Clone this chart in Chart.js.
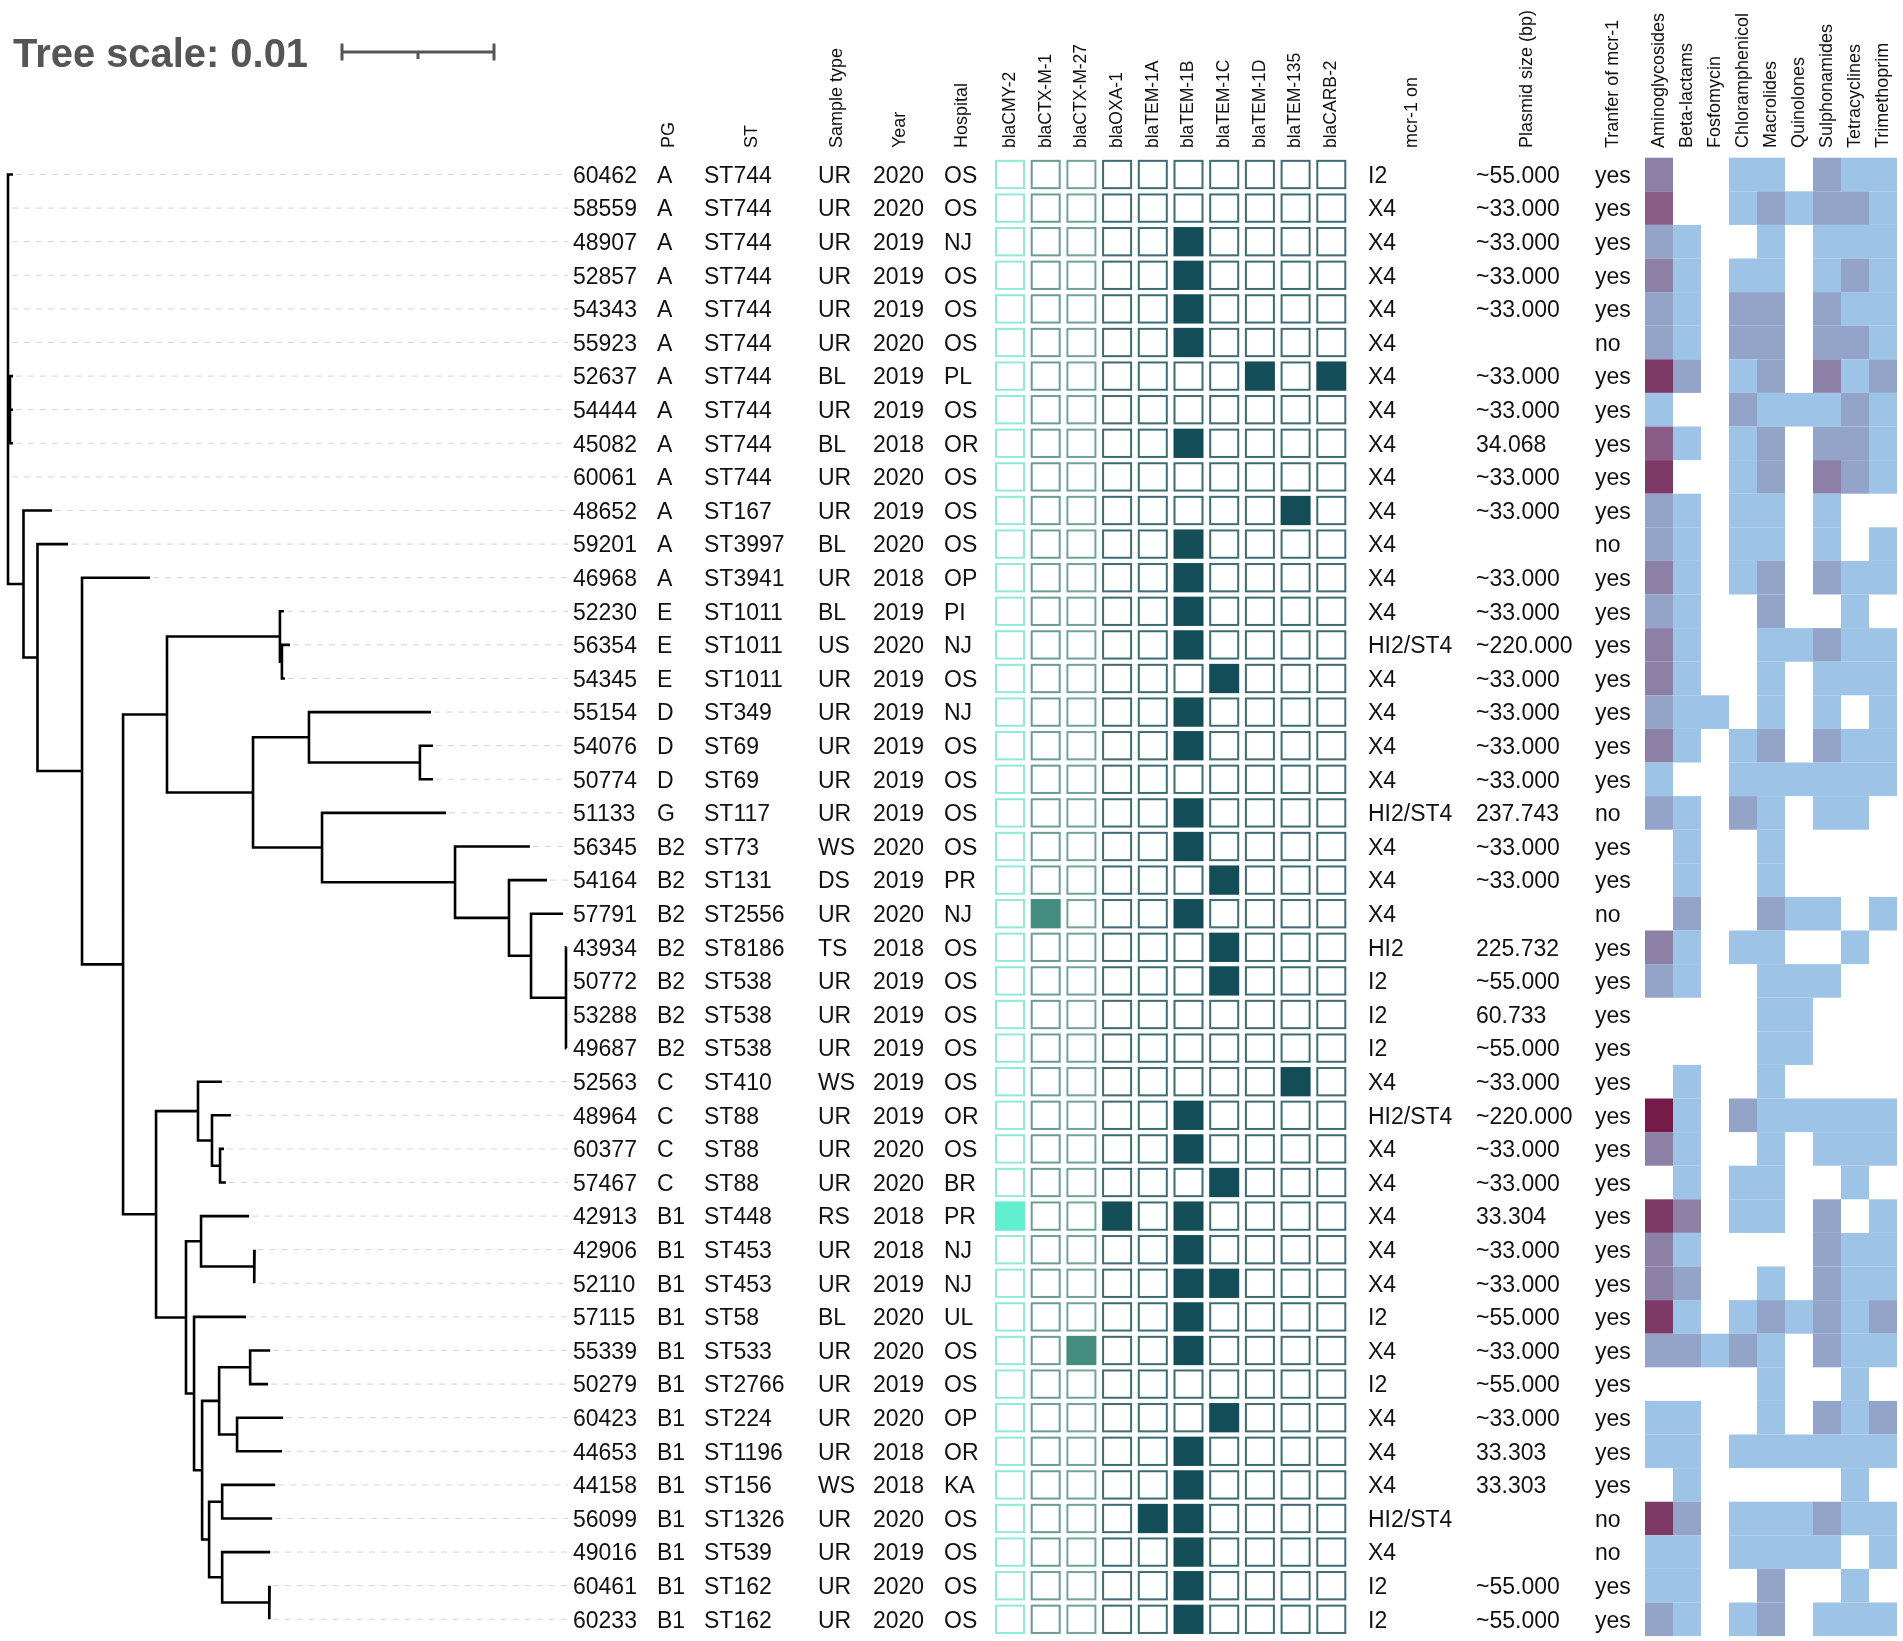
<!DOCTYPE html>
<html>
<head>
<meta charset="utf-8">
<title>mcr-1 isolates tree</title>
<script src="https://cdn.jsdelivr.net/npm/chart.js@4.4.1/dist/chart.umd.min.js"></script>
<style>
  html, body { margin: 0; padding: 0; background: #fff; }
  #wrap { width: 1903px; height: 1641px; position: relative; }
</style>
</head>
<body>
<div id="wrap"><canvas id="tree"></canvas></div>
<script>
// ---- data ----
const treeNewick =
  '(60462:0.00033,58559:0.00007,48907:0.00007,52857:0.00007,54343:0.00007,55923:0.00007,' +
  '(52637:0.0002,54444:0.0002,45082:0.0002):0.00013,60061:0.00007,' +
  '(48652:0.00188,(59201:0.00201,(46968:0.00447,(' +
    '((52230:0.00026,(56354:0.00053,54345:0.0002):0.00013):0.00743,' +
    '((55154:0.00803,(54076:0.00086,50774:0.00086):0.0073):0.00368,' +
    '(51133:0.00816,(56345:0.00493,(54164:0.0025,(57791:0.00211,' +
    '(43934:0.00003,50772:0.00003,53288:0.00003,49687:0.00003):0.0023):0.00145):0.00355):0.00875):0.00454):0.00566):0.00289,' +
    '((52563:0.00158,(48964:0.00125,(60377:0.00026,57467:0.00039):0.00053):0.00092):0.00276,' +
    '((42913:0.00316,(42906:0.00003,52110:0.00003):0.00349):0.00099,' +
    '(57115:0.00342,(((55339:0.00132,50279:0.00118):0.00204,(60423:0.00303,44653:0.00296):0.00118):0.00112,' +
    '((44158:0.00349,56099:0.00329):0.00086,(49016:0.00316,(60461:0.00003,60233:0.00003):0.00309):0.00086):0.00046)' +
    ':0.00053):0.00053):0.00197):0.00217' +
  '):0.0027):0.00293):0.00092):0.00102);';

const isolates = ['60462','58559','48907','52857','54343','55923','52637','54444','45082','60061',
  '48652','59201','46968','52230','56354','54345','55154','54076','50774','51133','56345','54164',
  '57791','43934','50772','53288','49687','52563','48964','60377','57467','42913','42906','52110',
  '57115','55339','50279','60423','44653','44158','56099','49016','60461','60233'];

const phylogroup = ['A','A','A','A','A','A','A','A','A','A','A','A','A','E','E','E','D','D','D','G',
  'B2','B2','B2','B2','B2','B2','B2','C','C','C','C','B1','B1','B1','B1','B1','B1','B1','B1','B1',
  'B1','B1','B1','B1'];

const sequenceType = ['ST744','ST744','ST744','ST744','ST744','ST744','ST744','ST744','ST744','ST744',
  'ST167','ST3997','ST3941','ST1011','ST1011','ST1011','ST349','ST69','ST69','ST117','ST73','ST131',
  'ST2556','ST8186','ST538','ST538','ST538','ST410','ST88','ST88','ST88','ST448','ST453','ST453',
  'ST58','ST533','ST2766','ST224','ST1196','ST156','ST1326','ST539','ST162','ST162'];

const sampleType = ['UR','UR','UR','UR','UR','UR','BL','UR','BL','UR','UR','BL','UR','BL','US','UR',
  'UR','UR','UR','UR','WS','DS','UR','TS','UR','UR','UR','WS','UR','UR','UR','RS','UR','UR','BL',
  'UR','UR','UR','UR','WS','UR','UR','UR','UR'];

const years = ['2020','2020','2019','2019','2019','2020','2019','2019','2018','2020','2019','2020',
  '2018','2019','2020','2019','2019','2019','2019','2019','2020','2019','2020','2018','2019','2019',
  '2019','2019','2019','2020','2020','2018','2018','2019','2020','2020','2019','2020','2018','2018',
  '2020','2019','2020','2020'];

const hospitals = ['OS','OS','NJ','OS','OS','OS','PL','OS','OR','OS','OS','OS','OP','PI','NJ','OS',
  'NJ','OS','OS','OS','OS','PR','NJ','OS','OS','OS','OS','OS','OR','OS','BR','PR','NJ','NJ','UL',
  'OS','OS','OP','OR','KA','OS','OS','OS','OS'];

const genes = ['blaCMY-2','blaCTX-M-1','blaCTX-M-27','blaOXA-1','blaTEM-1A','blaTEM-1B','blaTEM-1C',
  'blaTEM-1D','blaTEM-135','blaCARB-2'];

// one string per isolate, one digit per gene (1 = present)
const geneHits = ['0000000000','0000000000','0000010000','0000010000','0000010000','0000010000',
  '0000000101','0000000000','0000010000','0000000000','0000000010','0000010000','0000010000',
  '0000010000','0000010000','0000001000','0000010000','0000010000','0000000000','0000010000',
  '0000010000','0000001000','0100010000','0000001000','0000001000','0000000000','0000000000',
  '0000000010','0000010000','0000010000','0000001000','1001010000','0000010000','0000011000',
  '0000010000','0010010000','0000000000','0000001000','0000010000','0000010000','0000110000',
  '0000010000','0000010000','0000010000'];

const mcrPlasmid = ['I2','X4','X4','X4','X4','X4','X4','X4','X4','X4','X4','X4','X4','X4','HI2/ST4',
  'X4','X4','X4','X4','HI2/ST4','X4','X4','X4','HI2','I2','I2','I2','X4','HI2/ST4','X4','X4','X4',
  'X4','X4','I2','X4','I2','X4','X4','X4','HI2/ST4','X4','I2','I2'];

const plasmidSize = ['~55.000','~33.000','~33.000','~33.000','~33.000','','~33.000','~33.000',
  '34.068','~33.000','~33.000','','~33.000','~33.000','~220.000','~33.000','~33.000','~33.000',
  '~33.000','237.743','~33.000','~33.000','','225.732','~55.000','60.733','~55.000','~33.000',
  '~220.000','~33.000','~33.000','33.304','~33.000','~33.000','~55.000','~33.000','~55.000',
  '~33.000','33.303','33.303','','','~55.000','~55.000'];

const transfer = ['yes','yes','yes','yes','yes','no','yes','yes','yes','yes','yes','no','yes','yes',
  'yes','yes','yes','yes','yes','no','yes','yes','no','yes','yes','yes','yes','yes','yes','yes',
  'yes','yes','yes','yes','yes','yes','yes','yes','yes','yes','no','no','yes','yes'];

const drugClasses = ['Aminoglycosides','Beta-lactams','Fosfomycin','Chloramphenicol','Macrolides',
  'Quinolones','Sulphonamides','Tetracyclines','Trimethoprim'];

// resistance gene count level per class (0 = none)
const resistanceLevels = [
  [3,0,0,1,1,0,2,1,1],[4,0,0,1,2,1,2,2,1],[2,1,0,0,1,0,1,1,1],[3,1,0,1,1,0,1,2,1],
  [2,1,0,2,2,0,2,1,1],[2,1,0,2,2,0,2,2,1],[5,2,0,1,2,0,3,1,2],[1,0,0,2,1,1,1,2,1],
  [4,1,0,1,2,0,2,2,1],[5,0,0,1,2,0,3,2,1],[2,1,0,1,1,0,1,0,0],[2,1,0,1,1,0,1,0,1],
  [3,1,0,1,2,0,2,1,1],[2,1,0,0,2,0,0,1,0],[3,1,0,0,1,1,2,1,1],[3,1,0,0,1,0,1,1,1],
  [2,1,1,0,1,0,1,0,1],[3,1,0,1,2,0,2,1,1],[1,0,0,1,1,1,1,1,1],[2,1,0,2,1,0,1,1,0],
  [0,1,0,0,1,0,0,0,0],[0,1,0,0,1,0,0,0,0],[0,2,0,0,2,1,1,0,1],[3,1,0,1,1,0,0,1,0],
  [2,1,0,0,1,1,1,0,0],[0,0,0,0,1,1,0,0,0],[0,0,0,0,1,1,0,0,0],[0,1,0,0,1,0,0,0,0],
  [6,1,0,2,1,1,1,1,1],[3,1,0,0,1,0,1,1,1],[0,1,0,1,1,0,0,1,0],[5,3,0,1,1,0,2,0,1],
  [3,1,0,0,0,0,2,1,1],[3,2,0,0,1,0,2,1,1],[5,1,0,1,2,1,2,1,2],[2,2,1,2,1,0,2,1,1],
  [0,0,0,0,1,0,0,1,0],[1,1,0,0,1,0,2,1,2],[1,1,0,1,1,1,1,1,1],[0,1,0,0,0,0,0,1,0],
  [5,2,0,1,1,1,2,1,1],[1,1,0,1,1,1,1,0,1],[1,1,0,0,2,0,0,1,0],[2,1,0,1,2,0,1,1,1]
];

// ---- styles / layout (px on the 1903px wide canvas) ----
const levelColors = ['#ffffff','#9dc3e6','#94a3c8','#8c80a6','#8a5d89','#7e3a66','#751a49'];
const geneFill = ['#61efcf','#458c80','#458c80','#134d58','#134d58','#134d58','#134d58','#134d58','#134d58','#134d58'];
const geneStroke = ['#93e9d9','#6b9b95','#72a29c','#3e6c71','#3e6c71','#3e6c71','#3e6c71','#3e6c71','#3e6c71','#3e6c71'];
const W = 1903, H = 1641;
const ROW0 = 174.5, ROWH = 33.6;
const ROOTPX = 8, PX_PER_UNIT = 15200;   // 0.01 = 152 px
const GUIDE_END_PX = 568;
const FONT = '"Liberation Sans", Arial, sans-serif';

// ---- tree parsing & layout ----
function parseNewick(s) {
  let i = 0;
  function node() {
    const n = { children: [], len: 0, name: '' };
    if (s[i] === '(') {
      i++;
      n.children.push(node());
      while (s[i] === ',') { i++; n.children.push(node()); }
      i++;
    }
    let name = '';
    while (i < s.length && !',():;'.includes(s[i])) name += s[i++];
    n.name = name.trim();
    if (s[i] === ':') {
      i++;
      let num = '';
      while (i < s.length && !',();'.includes(s[i])) num += s[i++];
      n.len = parseFloat(num);
    }
    return n;
  }
  return node();
}

const root = parseNewick(treeNewick);
root.len = 0;
const leaves = [];
(function place(n, x0) {
  n.x = x0 + n.len;
  if (!n.children.length) {
    n.y = isolates.indexOf(n.name);
    leaves.push(n);
  } else {
    n.children.forEach(c => place(c, n.x));
    n.y = (n.children[0].y + n.children[n.children.length - 1].y) / 2;
  }
})(root, 0);

const branchPts = [];
(function walk(n) {
  if (!n.children.length) return;
  const first = n.children[0], last = n.children[n.children.length - 1];
  branchPts.push({x: first.x, y: first.y}, {x: n.x, y: first.y}, {x: n.x, y: last.y},
                 {x: last.x, y: last.y}, {x: last.x, y: null});
  n.children.slice(1, -1).forEach(c => {
    branchPts.push({x: n.x, y: c.y}, {x: c.x, y: c.y}, {x: c.x, y: null});
  });
  n.children.forEach(walk);
})(root);

const guideEnd = (GUIDE_END_PX - ROOTPX) / PX_PER_UNIT;
const guidePts = [];
leaves.forEach(l => {
  guidePts.push({x: l.x + 3 / PX_PER_UNIT, y: l.y}, {x: guideEnd, y: l.y}, {x: guideEnd, y: null});
});

// tree scale bar (0.01)
const barStart = (342 - ROOTPX) / PX_PER_UNIT;
const barY = (52 - ROW0) / ROWH;
const tick = 8.5 / ROWH;
const scalePts = [
  {x: barStart, y: barY - tick}, {x: barStart, y: barY + tick}, {x: barStart, y: null},
  {x: barStart, y: barY}, {x: barStart + 0.01, y: barY}, {x: barStart + 0.01, y: null},
  {x: barStart + 0.01, y: barY - tick}, {x: barStart + 0.01, y: barY + tick}, {x: barStart + 0.01, y: null},
  {x: barStart + 0.005, y: barY}, {x: barStart + 0.005, y: barY + 7 / ROWH}
];

// ---- annotation columns ----
const textColumns = [
  { values: isolates,     x: 573 },
  { values: phylogroup,   x: 657,  header: 'PG',                hx: 669 },
  { values: sequenceType, x: 704,  header: 'ST',                hx: 752 },
  { values: sampleType,   x: 818,  header: 'Sample type',       hx: 837 },
  { values: years,        x: 873,  header: 'Year',              hx: 900 },
  { values: hospitals,    x: 944,  header: 'Hospital',          hx: 962 },
  { values: mcrPlasmid,   x: 1368, header: 'mcr-1 on',          hx: 1412 },
  { values: plasmidSize,  x: 1476, header: 'Plasmid size (bp)', hx: 1527 },
  { values: transfer,     x: 1595, header: 'Tranfer of mcr-1',  hx: 1613 }
];
const GENE_X0 = 1010, GENE_STEP = 35.7, BOX_W = 30, BOX_H = 29.3;
const HEAT_X0 = 1645, HEAT_W = 28;
const HEADER_BASE = 148;

function drawHeader(ctx, text, x, y, size) {
  ctx.save();
  ctx.translate(x, y);
  ctx.rotate(-Math.PI / 2);
  ctx.font = size + 'px ' + FONT;
  ctx.fillStyle = '#111';
  ctx.textAlign = 'left';
  ctx.textBaseline = 'middle';
  ctx.fillText(text, 0, 0);
  ctx.restore();
}

const annotationPlugin = {
  id: 'annotations',
  afterDatasetsDraw(chart) {
    const ctx = chart.ctx;
    const ys = chart.scales.y, xc = chart.scales.xc;
    const px = v => xc.getPixelForValue(v);

    // title
    ctx.save();
    ctx.font = 'bold 41px ' + FONT;
    ctx.fillStyle = '#555';
    ctx.textBaseline = 'alphabetic';
    const tw = ctx.measureText('Tree scale: 0.01').width;
    ctx.translate(px(13), ys.getPixelForValue(barY) + 15);
    ctx.scale(295 / tw, 1);
    ctx.fillText('Tree scale: 0.01', 0, 0);
    ctx.restore();

    // text columns
    ctx.save();
    ctx.font = '23px ' + FONT;
    ctx.fillStyle = '#111';
    ctx.textAlign = 'left';
    ctx.textBaseline = 'alphabetic';
    textColumns.forEach(col => {
      col.values.forEach((v, r) => {
        if (v) ctx.fillText(v, px(col.x), ys.getPixelForValue(r) + 8.2);
      });
    });
    ctx.restore();
    textColumns.forEach(col => {
      if (col.header) drawHeader(ctx, col.header, px(col.hx), HEADER_BASE, 18);
    });

    // gene presence boxes
    ctx.save();
    ctx.lineWidth = 2;
    genes.forEach((g, k) => {
      const cx = px(GENE_X0 + GENE_STEP * k);
      drawHeader(ctx, g, cx, HEADER_BASE, 17.5);
      geneHits.forEach((row, r) => {
        const cy = ys.getPixelForValue(r);
        const x0 = cx - BOX_W / 2, y0 = cy - BOX_H / 2;
        if (row[k] === '1') {
          ctx.fillStyle = geneFill[k];
          ctx.fillRect(x0, y0, BOX_W, BOX_H);
        } else {
          ctx.strokeStyle = geneStroke[k];
          ctx.strokeRect(x0 + 1, y0 + 1, BOX_W - 2, BOX_H - 2);
        }
      });
    });
    ctx.restore();

    // resistance heatmap
    drugClasses.forEach((d, k) => {
      const x0 = px(HEAT_X0 + HEAT_W * k), x1 = px(HEAT_X0 + HEAT_W * (k + 1));
      drawHeader(ctx, d, (x0 + x1) / 2, HEADER_BASE, 18);
      resistanceLevels.forEach((row, r) => {
        if (!row[k]) return;
        const top = ys.getPixelForValue(r - 0.5), bot = ys.getPixelForValue(r + 0.5);
        ctx.fillStyle = levelColors[row[k]];
        ctx.fillRect(x0, top, x1 - x0, bot - top);
      });
    });
  }
};

new Chart(document.getElementById('tree'), {
  type: 'line',
  data: {
    datasets: [
      { label: 'branches', data: branchPts, borderColor: '#000', borderWidth: 2.6,
        borderJoinStyle: 'miter', borderCapStyle: 'butt', pointRadius: 0, spanGaps: false },
      { label: 'guides', data: guidePts, borderColor: '#d6d6d6', borderWidth: 1,
        borderDash: [6, 6], pointRadius: 0, spanGaps: false },
      { label: 'scale', data: scalePts, borderColor: '#555', borderWidth: 3,
        pointRadius: 0, spanGaps: false }
    ]
  },
  options: {
    responsive: true,
    maintainAspectRatio: false,
    animation: false,
    layout: { padding: 0 },
    scales: {
      x: { type: 'linear', display: false, min: -ROOTPX / PX_PER_UNIT, max: (W - ROOTPX) / PX_PER_UNIT },
      xc: { type: 'linear', axis: 'x', display: false, min: 0, max: W },
      y: { type: 'linear', display: false, reverse: true, min: -ROW0 / ROWH, max: (H - ROW0) / ROWH }
    },
    plugins: {
      legend: { display: false },
      tooltip: { enabled: false }
    }
  },
  plugins: [annotationPlugin]
});
</script>
</body>
</html>
